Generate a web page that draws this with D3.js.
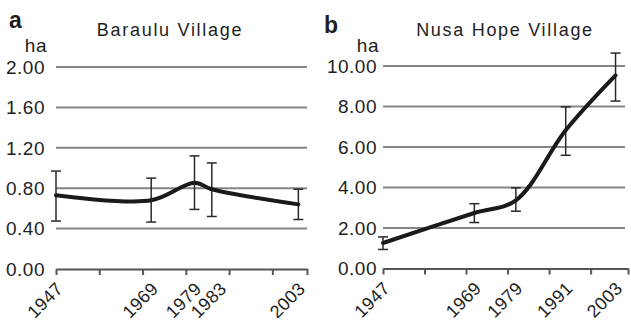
<!DOCTYPE html>
<html>
<head>
<meta charset="utf-8">
<script src="https://cdn.jsdelivr.net/npm/d3@7"></script>
<style>
  body { margin: 0; background: #fff; }
  svg text { font-family: "Liberation Sans", Arial, sans-serif; fill: #1e1e1e; }
</style>
</head>
<body>
<div id="chart"></div>
<script>
// Panel a: Baraulu Village
const barauluYears = [1947, 1969, 1979, 1983, 2003];
const barauluMean = [0.73, 0.68, 0.855, 0.79, 0.64];
const barauluHigh = [0.97, 0.90, 1.12, 1.05, 0.79];
const barauluLow = [0.475, 0.465, 0.59, 0.52, 0.49];
const barauluTicks = [0, 0.4, 0.8, 1.2, 1.6, 2.0];

// Panel b: Nusa Hope Village
const nusaYears = [1947, 1969, 1979, 1991, 2003];
const nusaMean = [1.26, 2.74, 3.37, 6.83, 9.54];
const nusaHigh = [1.56, 3.2, 3.98, 7.98, 10.64];
const nusaLow = [0.94, 2.27, 2.83, 5.59, 8.27];
const nusaTicks = [0, 2, 4, 6, 8, 10];

const yearStep = 10;

const svg = d3.select('#chart')
  .append('svg')
  .attr('width', 631)
  .attr('height', 322);

function drawPanel(cfg) {
  const g = svg.append('g');

  const x = d3.scaleLinear().domain(cfg.xDomain).range(cfg.xRange);
  const y = d3.scaleLinear().domain(cfg.yDomain).range(cfg.yRange);

  const data = cfg.years.map((yr, i) => ({
    year: yr, mean: cfg.mean[i], high: cfg.high[i], low: cfg.low[i]
  }));

  // gridlines
  g.selectAll('.grid')
    .data(cfg.ticks.filter(t => t > 0))
    .enter()
    .append('line')
    .attr('x1', cfg.xRange[0])
    .attr('x2', cfg.gridEnd)
    .attr('y1', d => y(d))
    .attr('y2', d => y(d))
    .attr('stroke', '#858585')
    .attr('stroke-width', 2);

  // y labels
  g.selectAll('.ylab')
    .data(cfg.ticks)
    .enter()
    .append('text')
    .attr('x', cfg.labelX)
    .attr('y', d => y(d))
    .attr('dy', '0.36em')
    .attr('text-anchor', 'end')
    .style('font-size', '19px')
    .style('letter-spacing', '0.5px')
    .text(d => d3.format('.2f')(d));

  g.append('text')
    .attr('x', cfg.labelX + 2)
    .attr('y', 52)
    .attr('text-anchor', 'end')
    .style('font-size', '19px')
    .style('letter-spacing', '0.5px')
    .text('ha');

  // x axis
  const tickYears = d3.range(cfg.xDomain[0], cfg.xDomain[1], yearStep).concat([cfg.xDomain[1]]);
  const xAxis = d3.axisBottom(x)
    .tickValues(tickYears)
    .tickSize(6)
    .tickSizeOuter(0)
    .tickFormat('');
  g.append('g')
    .attr('transform', 'translate(0,' + y(0) + ')')
    .call(xAxis)
    .call(a => a.select('.domain').attr('stroke', '#555').attr('stroke-width', 2))
    .call(a => a.selectAll('.tick line').attr('stroke', '#555').attr('stroke-width', 2));

  // year labels, nudged right when too close to the previous one
  const labelX = [];
  cfg.years.forEach((yr, i) => {
    let px = x(yr);
    if (i > 0 && px - labelX[i - 1] < 25) px = labelX[i - 1] + 25;
    labelX.push(px);
  });
  g.selectAll('.xlab')
    .data(cfg.years)
    .enter()
    .append('text')
    .attr('text-anchor', 'end')
    .attr('transform', (d, i) => 'translate(' + (labelX[i] + 8) + ',' + (y(0) + 21) + ') rotate(-45)')
    .style('font-size', '18px')
    .style('letter-spacing', '0.3px')
    .text(d => d);

  // error bars
  const eb = g.selectAll('.err')
    .data(data)
    .enter()
    .append('g')
    .attr('stroke', '#2a2a2a')
    .attr('stroke-width', 1.5);
  eb.append('line')
    .attr('x1', d => x(d.year)).attr('x2', d => x(d.year))
    .attr('y1', d => y(d.low)).attr('y2', d => y(d.high));
  eb.append('line')
    .attr('x1', d => x(d.year) - 5).attr('x2', d => x(d.year) + 5)
    .attr('y1', d => y(d.low)).attr('y2', d => y(d.low));
  eb.append('line')
    .attr('x1', d => x(d.year) - 5).attr('x2', d => x(d.year) + 5)
    .attr('y1', d => y(d.high)).attr('y2', d => y(d.high));

  // mean line
  const line = d3.line()
    .x(d => x(d.year))
    .y(d => y(d.mean))
    .curve(d3.curveCatmullRom);
  g.append('path')
    .datum(data)
    .attr('fill', 'none')
    .attr('stroke', '#1a1a1a')
    .attr('stroke-width', 4)
    .attr('stroke-linejoin', 'round')
    .attr('stroke-linecap', 'round')
    .attr('d', line);

  // title and panel letter
  g.append('text')
    .attr('x', cfg.titleX)
    .attr('y', 36)
    .attr('text-anchor', 'middle')
    .style('font-size', '18px')
    .style('letter-spacing', '1.7px')
    .text(cfg.title);
  g.append('text')
    .attr('x', cfg.letterX)
    .attr('y', cfg.letterY)
    .style('font-size', '23px')
    .style('font-weight', 'bold')
    .text(cfg.letter);
}

drawPanel({
  years: barauluYears, mean: barauluMean, high: barauluHigh, low: barauluLow,
  ticks: barauluTicks,
  xDomain: [1947, 2005], xRange: [56, 307], gridEnd: 307,
  yDomain: [0, 2], yRange: [269, 67],
  labelX: 45, title: 'Baraulu Village', titleX: 170,
  letter: 'a', letterX: 9, letterY: 28
});

drawPanel({
  years: nusaYears, mean: nusaMean, high: nusaHigh, low: nusaLow,
  ticks: nusaTicks,
  xDomain: [1947, 2006], xRange: [383, 628], gridEnd: 625,
  yDomain: [0, 10], yRange: [268.5, 66],
  labelX: 377, title: 'Nusa Hope Village', titleX: 505,
  letter: 'b', letterX: 324, letterY: 33
});
</script>
</body>
</html>
